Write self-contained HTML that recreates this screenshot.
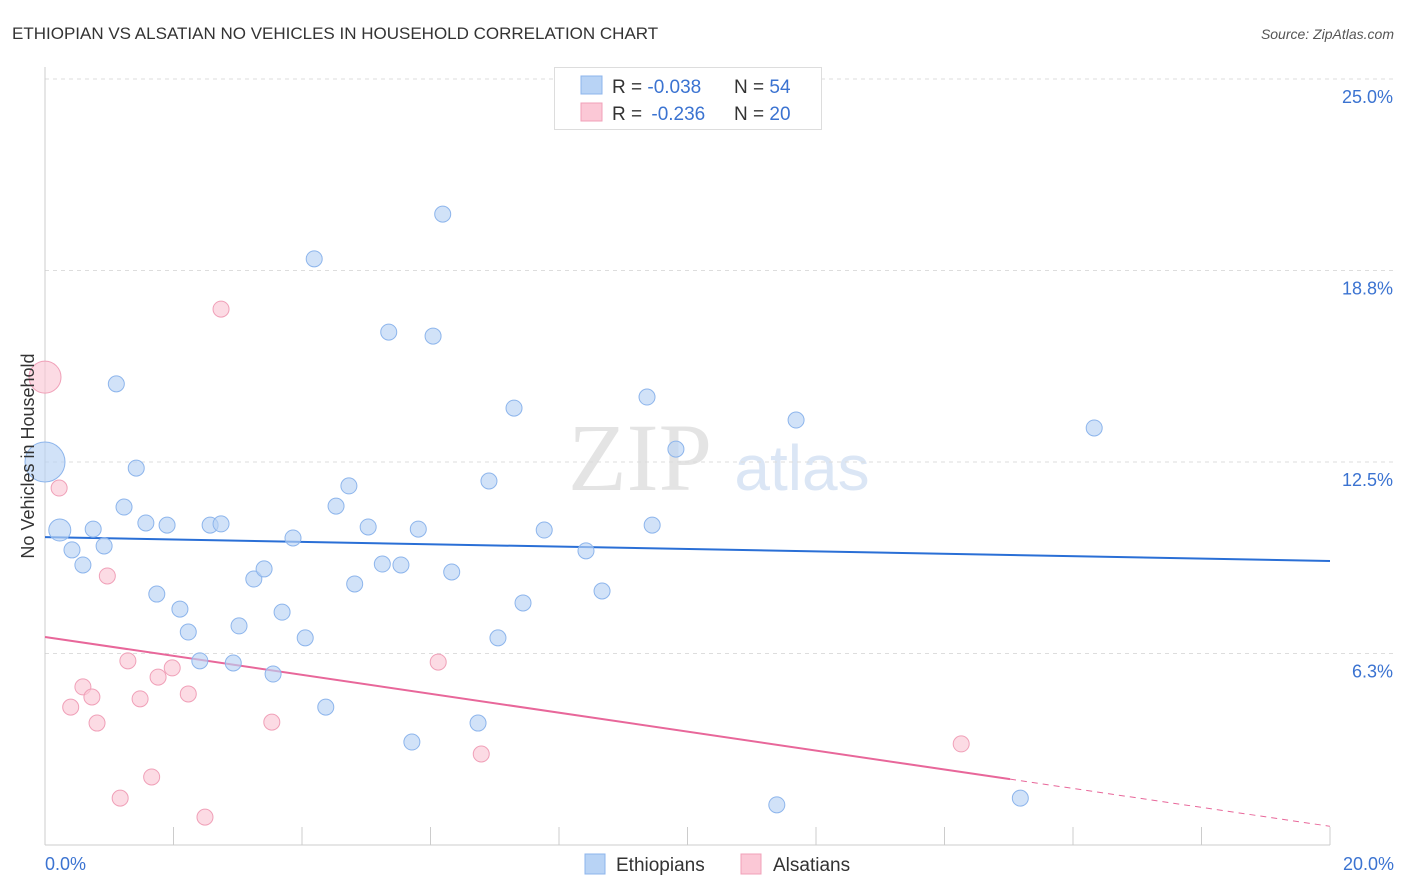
<!DOCTYPE html>
<html><head><meta charset="utf-8"><style>
body{margin:0;background:#fff;font-family:"Liberation Sans",sans-serif}
svg{display:block}
</style></head><body>
<svg id="chart" width="1406" height="892">
<text x="12" y="39" font-size="17" fill="#333">ETHIOPIAN VS ALSATIAN NO VEHICLES IN HOUSEHOLD CORRELATION CHART</text>
<text x="1394" y="39" font-size="14" fill="#555" font-style="italic" text-anchor="end">Source: ZipAtlas.com</text>
<text x="640" y="490" font-size="96" fill="#e4e4e4" font-family="Liberation Serif,serif" text-anchor="middle">ZIP</text>
<text x="802" y="490" font-size="64" fill="#dbe6f5" text-anchor="middle">atlas</text>
<g id="grid"></g><g id="axes"></g><g id="trend"></g><g id="pts"></g>
<text transform="translate(34,456) rotate(-90)" font-size="18" fill="#333" text-anchor="middle">No Vehicles in Household</text>
<g>
<rect x="554.5" y="67.5" width="267" height="62" fill="#fff" stroke="#ddd"/>
<rect x="581" y="76" width="21" height="18" fill="#b8d3f5" stroke="#8db5ec"/>
<rect x="581" y="103" width="21" height="18" fill="#fbc8d6" stroke="#f0a0b8"/>
<text x="612" y="93" font-size="19" fill="#333">R = <tspan fill="#3b73d1">-0.038</tspan><tspan x="734">N = </tspan><tspan fill="#3b73d1">54</tspan></text>
<text x="612" y="120" font-size="19" fill="#333">R = <tspan fill="#3b73d1" dx="4">-0.236</tspan><tspan x="734">N = </tspan><tspan fill="#3b73d1">20</tspan></text>
</g>
<g>
<rect x="585" y="854" width="20" height="20" fill="#b8d3f5" stroke="#8db5ec"/>
<text x="616" y="871" font-size="19" fill="#333">Ethiopians</text>
<rect x="741" y="854" width="20" height="20" fill="#fbc8d6" stroke="#f0a0b8"/>
<text x="773" y="871" font-size="19" fill="#333">Alsatians</text>
</g>
</svg>
<script>
const yTicks=[25,18.75,12.5,6.25];
const yTickLabels=["25.0%","18.8%","12.5%","6.3%"];
const xTickLabels=["0.0%","20.0%"];
const ethX=[0,0.23,0.42,0.59,0.75,0.92,1.11,1.23,1.42,1.57,1.74,1.90,2.10,2.23,2.41,2.57,2.74,2.93,3.02,3.25,3.41,3.55,3.69,3.86,4.05,4.19,4.37,4.53,4.73,4.82,5.03,5.25,5.35,5.54,5.71,5.81,6.04,6.19,6.33,6.74,6.91,7.05,7.30,7.44,7.77,8.42,8.67,9.37,9.45,9.82,11.39,11.69,15.18,16.33];
const ethY=[12.50,10.28,9.63,9.14,10.31,9.76,15.05,11.03,12.30,10.51,8.19,10.44,7.70,6.95,6.01,10.44,10.48,5.94,7.15,8.68,9.01,5.58,7.60,10.02,6.76,19.13,4.50,11.06,11.72,8.52,10.38,9.17,16.74,9.14,3.36,10.31,16.61,20.59,8.91,3.98,11.88,6.76,14.26,7.90,10.28,9.60,8.29,14.62,10.44,12.92,1.31,13.87,1.53,13.61];
const alsX=[0,0.22,0.40,0.59,0.73,0.81,0.97,1.17,1.29,1.48,1.66,1.76,1.98,2.23,2.49,2.74,3.53,6.12,6.79,14.26];
const alsY=[15.27,11.65,4.50,5.16,4.83,3.98,8.78,1.53,6.01,4.77,2.22,5.48,5.78,4.93,0.91,17.49,4.01,5.97,2.97,3.30];
const ethTrend=[10.05,9.27];
const alsTrend=[6.79,0.61];
const alsSolidEnd=15.02;
const X=v=>45+v/20*1285, Y=v=>845-v/25*766;
const NS="http://www.w3.org/2000/svg";
function mk(t,a,p){const e=document.createElementNS(NS,t);for(const k in a)e.setAttribute(k,a[k]);p.appendChild(e);return e;}
const grid=document.getElementById('grid'),axes=document.getElementById('axes'),tr=document.getElementById('trend'),pts=document.getElementById('pts');
yTicks.forEach((t,i)=>{
 const l=mk('line',{x1:45,x2:1395,y1:Y(t),y2:Y(t),stroke:'#ddd','stroke-dasharray':'4,4'},grid);
 
 
 const tx=mk('text',{x:1393,y:Y(t)+24,'font-size':18,fill:'#3b73d1','text-anchor':'end'},grid);
 tx.textContent=yTickLabels[i];
 
 
});
const ya=mk('line',{x1:45,x2:45,y1:67,y2:845,stroke:'#ccc'},axes);


const xa=mk('line',{x1:45,x2:1330,y1:845,y2:845,stroke:'#ccc'},axes);


for(let v=0;v<=20;v+=2){
 const t=mk('line',{x1:X(v),x2:X(v),y1:827,y2:845,stroke:'#ccc'},axes);
 
 
}
[[0,'start',45],[20,'end',1394]].forEach((d,i)=>{
 const t=mk('text',{x:d[2],y:870,'font-size':18,fill:'#3b73d1','text-anchor':d[1]},axes);
 t.textContent=xTickLabels[i];
 
 
});
ethX.forEach((x,i)=>{
 const c=mk('circle',{cx:X(x),cy:Y(ethY[i]),r:i==0?20:(i==1?11:8),fill:'#b8d3f5','fill-opacity':0.65,stroke:'#8db5ec'},pts);
 
 
});
alsX.forEach((x,i)=>{
 const c=mk('circle',{cx:X(x),cy:Y(alsY[i]),r:i==0?16:8,fill:'#fbc8d6','fill-opacity':0.65,stroke:'#f0a0b8'},pts);
 
 
});
const bl=mk('line',{x1:X(0),y1:Y(ethTrend[0]),x2:X(20),y2:Y(ethTrend[1]),stroke:'#2a6fd6','stroke-width':2},tr);


const ay=v=>alsTrend[0]+(alsTrend[1]-alsTrend[0])*v/20;
const pl=mk('line',{x1:X(0),y1:Y(alsTrend[0]),x2:X(alsSolidEnd),y2:Y(ay(alsSolidEnd)),stroke:'#e8679a','stroke-width':2},tr);


const pd=mk('line',{x1:X(alsSolidEnd),y1:Y(ay(alsSolidEnd)),x2:X(20),y2:Y(alsTrend[1]),stroke:'#e8679a','stroke-width':1,'stroke-dasharray':'6,5'},tr);


</script>
</body></html>
